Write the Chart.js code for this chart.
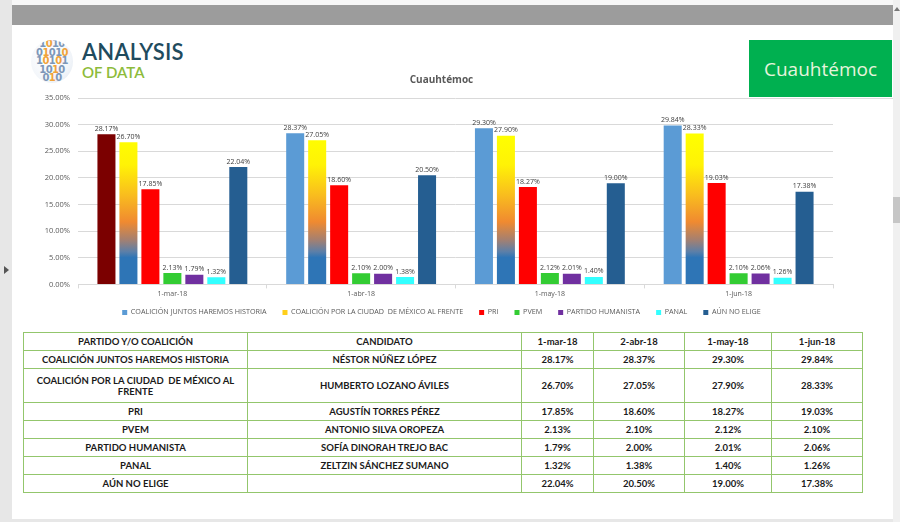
<!DOCTYPE html>
<html lang="es">
<head>
<meta charset="utf-8">
<title>Cuauhtémoc</title>
<script src="https://cdn.jsdelivr.net/npm/chart.js@4.4.1/dist/chart.umd.min.js"></script>
<style>
  html, body { margin: 0; padding: 0; }
  body { width: 900px; height: 522px; position: relative; overflow: hidden; background: #e7e7e7; font-family: "Open Sans", sans-serif; }
  .abs { position: absolute; }
  #topStrip { left: 12px; top: 0; width: 881px; height: 5px; background: #f7f7f7; }
  #grayBar { left: 12px; top: 5px; width: 881px; height: 20px; background: #9c9c9c; }
  #panel { left: 12px; top: 25px; width: 881px; height: 494px; background: #fff; }
  #scroll { left: 893px; top: 0; width: 7px; height: 522px; background: #f0f0f0; }
  #thumb { left: 893px; top: 197px; width: 7px; height: 26px; background: #c6c6c6; }
  #arrowUp { left: 894px; top: 7px; width: 0; height: 0; border-left: 3px solid transparent; border-right: 3px solid transparent; border-bottom: 4px solid #777; }
  #arrowLeft { left: 4px; top: 266px; width: 0; height: 0; border-top: 4px solid transparent; border-bottom: 4px solid transparent; border-left: 5px solid #555; }
  #globe { left: 31px; top: 40px; width: 42px; height: 43px; border-radius: 50%; overflow: hidden;
           background: radial-gradient(circle at 40% 40%, #ffffff 0%, #f3f6fa 60%, #dde5ee 100%);
           font: bold 10px "DejaVu Sans", sans-serif; line-height: 8.6px; color: #7d97b8; text-align: center; letter-spacing: -0.6px; }
  #globe span { color: #f0a33a; }
  #brand1 { left: 82px; top: 38px; font: 600 22px "Lato", sans-serif; color: #1f4b5e; letter-spacing: 0.2px; }
  #brand2 { left: 82px; top: 63px; font: 600 15px "Lato", sans-serif; color: #8dbb3a; }
  #greenBox { left: 749px; top: 40px; width: 143px; height: 57px; background: #00b050; color: #e6f4dc;
              font: 19px "Open Sans", sans-serif; display: flex; align-items: center; justify-content: center; }
  #topLine { left: 833px; top: 98px; width: 60px; height: 1px; background: #dedede; }
  #chartBox { left: 0; top: 60px; width: 850px; height: 272px; }
  table { position: absolute; left: 23px; top: 332px; border-collapse: collapse; table-layout: fixed;
          font: bold 9.5px "Lato", sans-serif; color: #1a1a1a; }
  td { border: 1px solid #93c66c; text-align: center; padding: 0 4px; height: 17px; line-height: 11px; }
  td.tall { height: 33px; }
</style>
</head>
<body>
<div class="abs" id="topStrip"></div>
<div class="abs" id="grayBar"></div>
<div class="abs" id="panel"></div>
<div class="abs" id="scroll"></div>
<div class="abs" id="thumb"></div>
<div class="abs" id="arrowUp"></div>
<div class="abs" id="arrowLeft"></div>
<div class="abs" id="globe">1<span>0</span>10<br>0<span>1</span>01<span>0</span><br>1<span>0</span>1<span>0</span>1<br>10<span>1</span>0<br>0<span>1</span>0</div>
<div class="abs" id="brand1">ANALYSIS</div>
<div class="abs" id="brand2">OF DATA</div>
<div class="abs" id="greenBox">Cuauhtémoc</div>
<div class="abs" id="topLine"></div>
<div class="abs" id="chartBox"><canvas id="barChart"></canvas></div>
<table id="dataTable"></table>

<script>
const chartTitle = 'Cuauhtémoc';
const dates = ['1-mar-18', '1-abr-18', '1-may-18', '1-jun-18'];
const tableDates = ['1-mar-18', '2-abr-18', '1-may-18', '1-jun-18'];
const parties = [
  'COALICIÓN JUNTOS HAREMOS HISTORIA',
  'COALICIÓN POR LA CIUDAD  DE MÉXICO AL FRENTE',
  'PRI',
  'PVEM',
  'PARTIDO HUMANISTA',
  'PANAL',
  'AÚN NO ELIGE',
];
const candidates = [
  'NÉSTOR NÚÑEZ LÓPEZ',
  'HUMBERTO LOZANO ÁVILES',
  'AGUSTÍN TORRES PÉREZ',
  'ANTONIO SILVA OROPEZA',
  'SOFÍA DINORAH TREJO BAC',
  'ZELTZIN SÁNCHEZ SUMANO',
  '',
];
const juntos = [28.17, 28.37, 29.30, 29.84];
const porLaCiudad = [26.70, 27.05, 27.90, 28.33];
const pri = [17.85, 18.60, 18.27, 19.03];
const pvem = [2.13, 2.10, 2.12, 2.10];
const humanista = [1.79, 2.00, 2.01, 2.06];
const panal = [1.32, 1.38, 1.40, 1.26];
const noElige = [22.04, 20.50, 19.00, 17.38];
const seriesValues = [juntos, porLaCiudad, pri, pvem, humanista, panal, noElige];

const juntosBarColors = ['#7b0000', '#5b9bd5', '#5b9bd5', '#5b9bd5'];
const legendColors = ['#5b9bd5', '#ffcf1a', '#ff0000', '#33cc33', '#7030a0', '#33ffff', '#255e91'];

// yellow -> orange -> blue fill, anchored to the value scale like the original
function coalicionGradient(context) {
  const { chart } = context;
  const yScale = chart.scales.y;
  if (!chart.chartArea || !yScale) {
    return legendColors[1];
  }
  const top = yScale.getPixelForValue(28);
  const bottom = yScale.getPixelForValue(0);
  const g = chart.ctx.createLinearGradient(0, top, 0, bottom);
  g.addColorStop(0, '#ffff00');
  g.addColorStop(0.2, '#fff206');
  g.addColorStop(0.4, '#f9bd1e');
  g.addColorStop(0.58, '#f08a30');
  g.addColorStop(0.7, '#a58070');
  g.addColorStop(0.78, '#5c7fa8');
  g.addColorStop(0.82, '#2e75b6');
  g.addColorStop(1, '#2e75b6');
  return g;
}

const fills = [juntosBarColors, coalicionGradient, '#ff0000', '#33cc33', '#7030a0', '#33ffff', '#255e91'];

const datasets = parties.map((name, idx) => ({
  label: name,
  data: seriesValues[idx],
  backgroundColor: fills[idx],
  borderWidth: 0,
  categoryPercentage: 0.815,
  barPercentage: 0.82,
}));

const barValueLabels = {
  id: 'barValueLabels',
  afterDatasetsDraw(chart) {
    const { ctx } = chart;
    ctx.save();
    ctx.font = '7px "Open Sans"';
    ctx.fillStyle = '#404040';
    ctx.textAlign = 'center';
    ctx.textBaseline = 'bottom';
    chart.data.datasets.forEach((ds, i) => {
      chart.getDatasetMeta(i).data.forEach((bar, j) => {
        ctx.fillText(`${ds.data[j].toFixed(2)}%`, bar.x, bar.y - 2);
      });
    });
    ctx.restore();
  },
};

// Excel centres title and legend on the plot, not on the whole canvas
const nudgeBoxes = {
  id: 'nudgeBoxes',
  afterLayout(chart) {
    const dx = 12;
    if (chart.titleBlock) {
      chart.titleBlock.left += dx;
      chart.titleBlock.right += dx;
    }
    if (chart.legend) {
      chart.legend.left += dx;
      chart.legend.right += dx;
      chart.legend.top -= 6;
      chart.legend.bottom -= 6;
    }
  },
};

new Chart(document.getElementById('barChart'), {
  type: 'bar',
  data: { labels: dates, datasets },
  options: {
    responsive: true,
    maintainAspectRatio: false,
    animation: false,
    layout: { padding: { left: 26, right: 17, top: 0, bottom: 0 } },
    scales: {
      x: {
        grid: { drawOnChartArea: false, drawTicks: true, tickLength: 4, color: '#d9d9d9' },
        border: { color: '#d9d9d9' },
        ticks: { color: '#595959', font: { family: 'Open Sans', size: 7 }, padding: 1 },
      },
      y: {
        min: 0,
        max: 35,
        ticks: {
          stepSize: 5,
          color: '#595959',
          font: { family: 'Open Sans', size: 7.5 },
          padding: 8,
          callback(value) { return `${value.toFixed(2)}%`; },
        },
        grid: { color: '#d9d9d9', drawTicks: false },
        border: { display: false },
        afterFit(scale) { scale.width = 52; },
      },
    },
    plugins: {
      title: {
        display: true,
        text: chartTitle,
        color: '#595959',
        font: { family: 'Open Sans', size: 10, weight: 'bold' },
        padding: { top: 14, bottom: 12 },
      },
      legend: {
        position: 'bottom',
        labels: {
          boxWidth: 5,
          boxHeight: 5,
          padding: 16,
          color: '#595959',
          font: { family: 'Open Sans', size: 7.2 },
          generateLabels(chart) {
            return Chart.defaults.plugins.legend.labels.generateLabels(chart).map((item, idx) => ({
              ...item,
              fillStyle: legendColors[idx],
              strokeStyle: legendColors[idx],
              lineWidth: 0,
            }));
          },
        },
      },
      tooltip: { enabled: false },
    },
  },
  plugins: [barValueLabels, nudgeBoxes],
});

function buildTable() {
  const table = document.getElementById('dataTable');
  const colWidths = [224, 274, 72, 91, 87, 91];
  const colgroup = document.createElement('colgroup');
  colWidths.forEach((w) => {
    const col = document.createElement('col');
    col.style.width = `${w}px`;
    colgroup.appendChild(col);
  });
  table.appendChild(colgroup);

  const header = document.createElement('tr');
  ['PARTIDO Y/O COALICIÓN', 'CANDIDATO', ...tableDates].forEach((text) => {
    const td = document.createElement('td');
    td.textContent = text;
    header.appendChild(td);
  });
  table.appendChild(header);

  parties.forEach((party, idx) => {
    const tr = document.createElement('tr');
    const cells = [party, candidates[idx], ...seriesValues[idx].map((v) => `${v.toFixed(2)}%`)];
    cells.forEach((text, c) => {
      const td = document.createElement('td');
      td.textContent = text;
      if (c === 0) td.style.whiteSpace = 'pre-wrap';
      if (idx === 1) td.className = 'tall';
      tr.appendChild(td);
    });
    table.appendChild(tr);
  });
}

buildTable();
</script>
</body>
</html>
